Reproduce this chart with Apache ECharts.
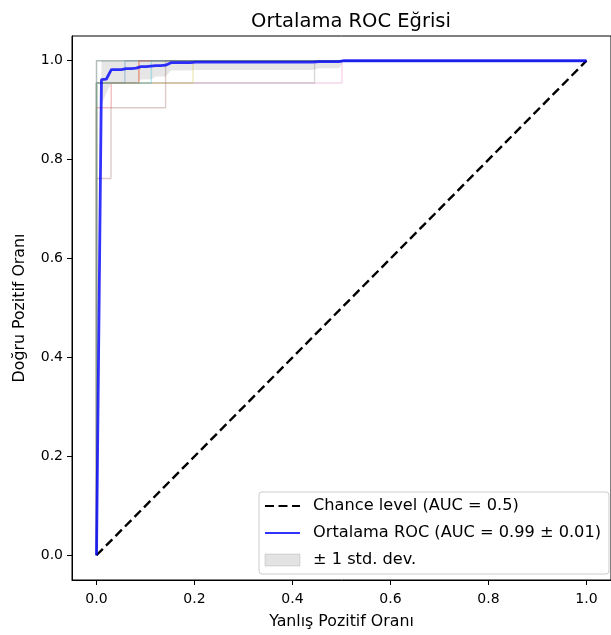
<!DOCTYPE html>
<html>
<head>
<meta charset="utf-8">
<script src="https://cdn.jsdelivr.net/npm/echarts@6/dist/echarts.min.js"></script>
<style>
html,body{margin:0;padding:0;background:#fff;}
#chart{width:611px;height:635px;}
</style>
</head>
<body>
<div id="chart"></div>
<script>
// ---- data ----
const tickValues = [0.0, 0.2, 0.4, 0.6, 0.8, 1.0];
const chanceX = [0, 1];
const chanceY = [0, 1];

// mean ROC (FPR, TPR)
const meanFpr = [0, 0.0101, 0.0202, 0.0303, 0.0404, 0.0505, 0.0606, 0.0707, 0.0808, 0.0909, 0.101, 0.111, 0.121, 0.131, 0.141, 0.152, 0.192, 0.202, 0.44, 0.455, 0.495, 0.505, 1.0];
const meanTpr = [0, 0.962, 0.963, 0.982, 0.982, 0.982, 0.984, 0.984, 0.985, 0.988, 0.988, 0.989, 0.990, 0.990, 0.991, 0.996, 0.996, 0.997, 0.997, 0.998, 0.998, 1.0, 1.0];

// std band
const bandFpr = [0.0101, 0.0202, 0.0303, 0.0404, 0.0505, 0.0606, 0.0707, 0.0808, 0.0909, 0.101, 0.111, 0.121, 0.131, 0.141, 0.152, 0.192, 0.202, 0.44, 0.455, 0.495, 0.505, 1.0];
const bandLower = [0.91, 0.935, 0.955, 0.955, 0.955, 0.955, 0.955, 0.955, 0.962, 0.962, 0.962, 0.968, 0.968, 0.968, 0.980, 0.980, 0.981, 0.981, 0.985, 0.985, 1.0, 1.0];
const bandUpper = [1, 1, 1, 1, 1, 1, 1, 1, 1, 1, 1, 1, 1, 1, 1, 1, 1, 1, 1, 1, 1, 1];

// individual folds (step curves)
const fold1Fpr = [0, 0, 0.058, 0.058, 1];       const fold1Tpr = [0, 0.955, 0.955, 1, 1];
const fold2Fpr = [0, 0, 0.0865, 0.0865, 1];     const fold2Tpr = [0, 0.955, 0.955, 1, 1];
const fold3Fpr = [0, 0, 1];                      const fold3Tpr = [0, 1, 1];
const fold4Fpr = [0, 0, 0.030, 0.030, 0.0865, 0.0865, 1]; const fold4Tpr = [0, 0.905, 0.905, 0.955, 0.955, 1, 1];
const fold5Fpr = [0, 0, 1];                      const fold5Tpr = [0, 1, 1];
const fold6Fpr = [0, 0, 0.0295, 0.0295, 0.141, 0.141, 1]; const fold6Tpr = [0, 0.762, 0.762, 0.905, 0.905, 1, 1];
const fold7Fpr = [0, 0, 0.501, 0.501, 1];       const fold7Tpr = [0, 0.955, 0.955, 1, 1];
const fold8Fpr = [0, 0, 0.445, 0.445, 1];       const fold8Tpr = [0, 0.955, 0.955, 1, 1];
const fold9Fpr = [0, 0, 0.197, 0.197, 1];       const fold9Tpr = [0, 0.955, 0.955, 1, 1];
const fold10Fpr = [0, 0, 0.112, 0.112, 1];      const fold10Tpr = [0, 0.955, 0.955, 1, 1];

const foldColors = ['#1f77b4','#ff7f0e','#2ca02c','#d62728','#9467bd','#8c564b','#e377c2','#7f7f7f','#bcbd22','#17becf'];

const legendChance = 'Chance level (AUC = 0.5)';
const legendMean = 'Ortalama ROC (AUC = 0.99 ± 0.01)';
const legendBand = '± 1 std. dev.';

// ---- build ----
function zip(a, b) { return a.map((v, i) => [v, b[i]]); }
const folds = [
  [fold1Fpr, fold1Tpr], [fold2Fpr, fold2Tpr], [fold3Fpr, fold3Tpr], [fold4Fpr, fold4Tpr], [fold5Fpr, fold5Tpr],
  [fold6Fpr, fold6Tpr], [fold7Fpr, fold7Tpr], [fold8Fpr, fold8Tpr], [fold9Fpr, fold9Tpr], [fold10Fpr, fold10Tpr]
];

const FONT = 'DejaVu Sans';
const series = [];

// std band polygon, drawn through the axes' coordinate system
series.push({
  type: 'custom', name: legendBand, silent: true, z: 1,
  itemStyle: { color: 'rgba(128,128,128,0.2)' },
  data: [[bandFpr[0], bandUpper[0]]],
  renderItem: function (params, api) {
    const pts = [];
    for (let i = 0; i < bandFpr.length; i++) pts.push(api.coord([bandFpr[i], bandUpper[i]]));
    for (let i = bandFpr.length - 1; i >= 0; i--) pts.push(api.coord([bandFpr[i], bandLower[i]]));
    return { type: 'polygon', shape: { points: pts }, style: { fill: 'rgba(128,128,128,0.2)', stroke: null } };
  }
});

folds.forEach((f, i) => {
  series.push({
    type: 'line', name: 'fold' + (i + 1), data: zip(f[0], f[1]),
    symbol: 'none', silent: true,
    lineStyle: { color: foldColors[i], width: 1.4, opacity: 0.3 },
    itemStyle: { color: foldColors[i] }, z: 2
  });
});

series.push({
  type: 'line', name: legendChance, data: zip(chanceX, chanceY), symbol: 'none', silent: true,
  lineStyle: { color: '#000', width: 2.4, type: [9, 4.5] }, itemStyle: { color: '#000' }, z: 3
});
series.push({
  type: 'line', name: legendMean, data: zip(meanFpr, meanTpr), symbol: 'none', silent: true,
  lineStyle: { color: 'rgba(0,0,255,0.8)', width: 2.8 }, itemStyle: { color: 'rgba(0,0,255,0.8)' }, z: 4
});

function fmt(v) { return Number(v).toFixed(1); }

const axisCommon = {
  type: 'value', min: -0.05, max: 1.05,
  splitLine: { show: false },
  axisLine: { show: true, onZero: false, lineStyle: { color: '#000', width: 1 } },
  axisTick: { show: true, length: 5, inside: false, customValues: tickValues, lineStyle: { color: '#000', width: 1 } },
  axisLabel: { customValues: tickValues, formatter: fmt, color: '#000', fontFamily: FONT, fontSize: 14 },
  nameLocation: 'middle',
  nameTextStyle: { color: '#000', fontFamily: FONT, fontSize: 15.8 }
};

const option = {
  animation: false,
  backgroundColor: '#fff',
  title: {
    text: 'Ortalama ROC Eğrisi', left: 346, top: 7, textAlign: 'center',
    textStyle: { color: '#000', fontFamily: FONT, fontSize: 19.5, fontWeight: 'normal' }
  },
  grid: { left: 72, top: 36, width: 547, height: 546, show: true, borderColor: '#000', borderWidth: 1, backgroundColor: 'transparent' },
  xAxis: Object.assign({}, axisCommon, {
    name: 'Yanlış Pozitif Oranı', nameGap: 34,
    axisLabel: Object.assign({}, axisCommon.axisLabel, { margin: 12 })
  }),
  yAxis: Object.assign({}, axisCommon, {
    name: 'Doğru Pozitif Oranı', nameGap: 44,
    axisLabel: Object.assign({}, axisCommon.axisLabel, { margin: 9 })
  }),
  legend: {
    orient: 'vertical', left: 259, top: 492,
    padding: [6, 8, 6, 5], itemGap: 11, itemWidth: 35, itemHeight: 12,
    backgroundColor: 'rgba(255,255,255,0.8)', borderColor: '#cccccc', borderWidth: 1, borderRadius: 3,
    textStyle: { color: '#000', fontFamily: FONT, fontSize: 16.2, padding: [0, 0, 0, 8] },
    selectedMode: false,
    data: [
      { name: legendChance, itemStyle: { opacity: 0 } },
      { name: legendMean, itemStyle: { opacity: 0 } },
      { name: legendBand, icon: 'rect', itemStyle: { color: 'rgba(128,128,128,0.22)', borderColor: 'rgba(128,128,128,0.25)', borderWidth: 1 } }
    ]
  },
  series: series
};

const chart = echarts.init(document.getElementById('chart'), null, { renderer: 'canvas' });
chart.setOption(option);
</script>
</body>
</html>
